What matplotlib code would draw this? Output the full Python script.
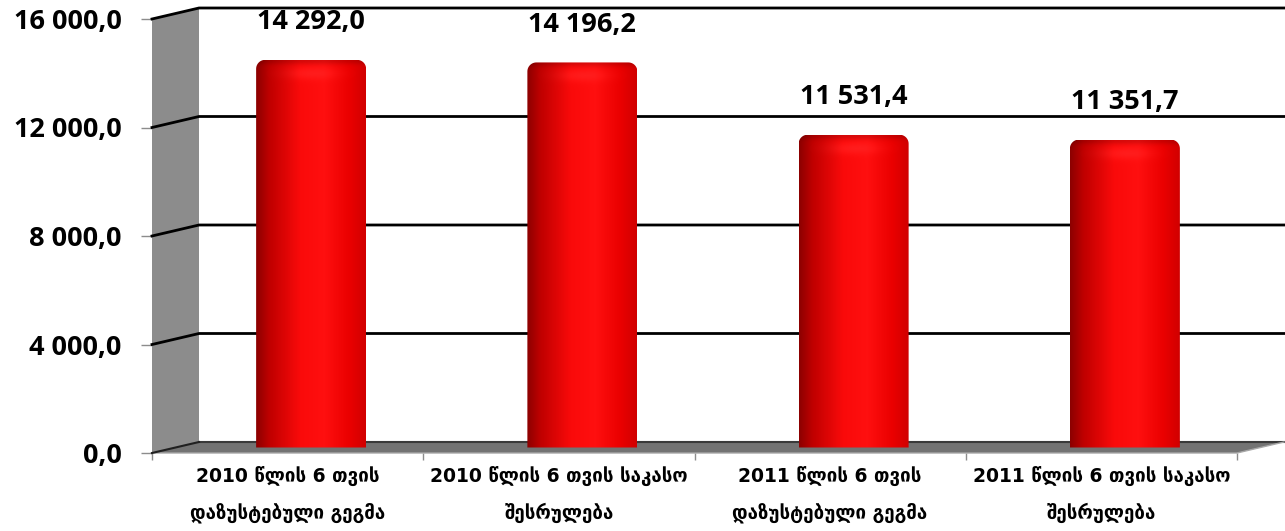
import numpy as np
import matplotlib.pyplot as plt
from matplotlib.patches import Polygon, PathPatch
from matplotlib.path import Path

categories = [
    "2010 წლის 6 თვის\nდაზუსტებული გეგმა",
    "2010 წლის 6 თვის საკასო\nშესრულება",
    "2011 წლის 6 თვის\nდაზუსტებული გეგმა",
    "2011 წლის 6 თვის საკასო\nშესრულება",
]
values = [14292.0, 14196.2, 11531.4, 11351.7]
y_ticks = [0, 4000, 8000, 12000, 16000]

W, H = 1285, 531
fig = plt.figure(figsize=(W / 100, H / 100), dpi=100)

# front plane of the box, in pixels
left, right, bottom, top = 152, 1237, 453, 19
ax = fig.add_axes([left / W, 1 - bottom / H, (right - left) / W, (bottom - top) / H])
n = len(values)
ax.set_xlim(-0.5, n - 0.5)
ax.set_ylim(0, y_ticks[-1])

px_x = n / (right - left)
px_y = y_ticks[-1] / (bottom - top)
dx, dy = 47 * px_x, 11 * px_y      # depth offset of the back wall
x0, x1 = -0.5, n - 0.5

num_font = dict(fontsize=19.5, fontweight="bold", family=["Open Sans", "DejaVu Sans"])

def fmt(v):
    return f"{v:,.1f}".replace(",", " ").replace(".", ",")

# side wall and floor
ax.add_patch(Polygon([(x0, 0), (x0 + dx, dy), (x0 + dx, y_ticks[-1] + dy), (x0, y_ticks[-1])],
                     closed=True, facecolor="#8c8c8c", edgecolor="none", zorder=1, clip_on=False))
ax.add_patch(Polygon([(x0, 0), (x1, 0), (x1 + dx, dy), (x0 + dx, dy)],
                     closed=True, facecolor="#737373", edgecolor="none", zorder=1, clip_on=False))
ax.plot([x0 + dx, x1 + dx], [dy, dy], color="#3a3a3a", lw=1.5, zorder=2, clip_on=False)
ax.plot([x0, x1, x1 + dx], [0, 0, dy], color="#a8a8a8", lw=1, zorder=2, clip_on=False)
ax.plot([x0, x0 + dx], [0, dy], color="#202020", lw=1.5, zorder=2, clip_on=False)

# gridlines on side wall and back wall
for t in y_ticks[1:]:
    ax.plot([x0, x0 + dx, x1 + dx], [t, t + dy, t + dy], color="black", lw=2,
            zorder=2, clip_on=False, solid_joinstyle="miter")

# cylinder shading
stops = [0.0, 0.12, 0.4, 0.62, 0.85, 1.0]
cols = [(0.55, 0.0, 0.0), (0.75, 0.0, 0.0), (0.98, 0.04, 0.04),
        (1.0, 0.06, 0.06), (0.92, 0.0, 0.0), (0.82, 0.0, 0.0)]
bw = 110 * px_x
r = 9
for i, v in enumerate(values):
    c = i + dx / 2
    bx0, bx1 = c - bw / 2, c + bw / 2
    yb, yt = dy / 2, v + dy / 2
    rx, ry = r * px_x, r * px_y
    ang = np.linspace(0, np.pi / 2, 12)
    verts = [(bx0, yb), (bx1, yb)]
    verts += [(bx1 - rx + rx * np.cos(a), yt - ry + ry * np.sin(a)) for a in ang]
    verts += [(bx0 + rx - rx * np.cos(a), yt - ry + ry * np.sin(a)) for a in ang[::-1]]
    verts.append((bx0, yb))
    clip = PathPatch(Path(verts), facecolor="none", edgecolor="none", transform=ax.transData)
    ax.add_patch(clip)

    ncol, nrow = 120, 400
    u = np.linspace(0, 1, ncol)
    base = np.stack([np.interp(u, stops, [cc[k] for cc in cols]) for k in range(3)], axis=-1)
    hpx = (yt - yb) / px_y
    t = np.linspace(0, hpx, nrow)[:, None]
    glow = 0.12 * np.exp(-((t - 13) / 6) ** 2) * np.exp(-((u - 0.5) / 0.25) ** 2)[None, :]
    dark = 0.15 * np.exp(-(t / 4) ** 2)
    img = base[None, :, :] * (1 - dark[..., None])
    img = img + glow[..., None] * np.array([0.3, 0.5, 0.5])
    img = np.clip(img, 0, 1)
    im = ax.imshow(img, extent=(bx0, bx1, yb, yt), origin="upper", aspect="auto",
                   interpolation="bilinear", zorder=3)
    im.set_clip_path(clip)

    ax.annotate(fmt(v), (c, yt), xytext=(0, 27), textcoords="offset points",
                ha="center", va="center", zorder=5, **num_font)

ax.set_xlim(-0.5, n - 0.5)
ax.set_ylim(0, y_ticks[-1])

for s in ax.spines.values():
    s.set_visible(False)

ax.set_yticks(y_ticks)
ax.set_yticklabels([fmt(t) for t in y_ticks], **num_font)
ax.tick_params(axis="y", length=8, width=1, color="#8c8c8c", pad=14)

ax.set_xticks(range(n))
ax.set_xticklabels(categories, fontsize=13.5, fontweight="bold", linespacing=2.0,
                   family=["DejaVu Sans"])
ax.set_xticks(np.arange(n + 1) - 0.5, minor=True)
ax.tick_params(axis="x", which="major", length=0, pad=10)
ax.tick_params(axis="x", which="minor", length=5, width=1, color="#8c8c8c")

fig.savefig("out.png", dpi=100)
